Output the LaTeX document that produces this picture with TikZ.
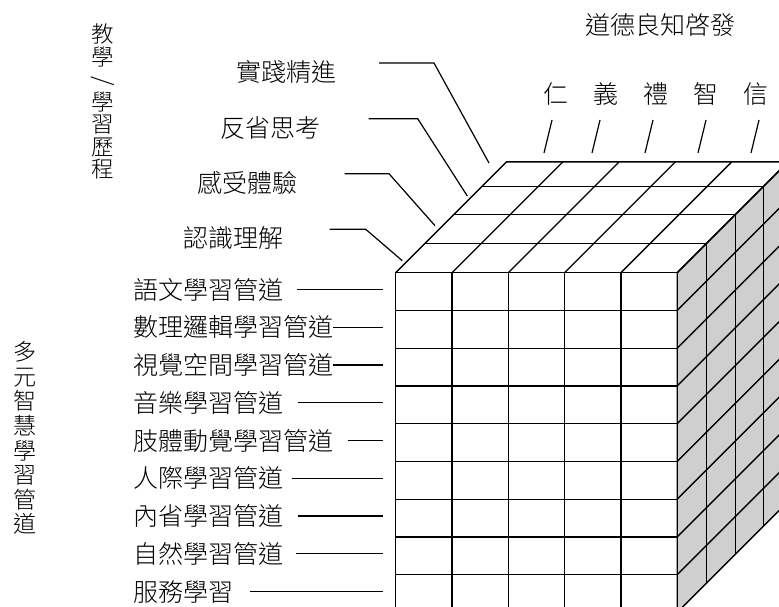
\documentclass[tikz,border=0pt]{standalone}
\usepackage{fontspec}
\usepackage{tikz}
\newfontfamily\cjk{Noto Sans CJK TC Light}
\definecolor{sidegray}{RGB}{207,207,207}
\tikzset{
  lbl/.style={font=\cjk\fontsize{25}{25}\selectfont, inner sep=0pt},
  lead/.style={line width=1.2pt},
  cube/.style={line width=1.3pt, line join=miter},
}

\begin{document}
\begin{tikzpicture}[x=1pt,y=-1pt]
    \useasboundingbox (0,0) rectangle (779,607);
    \clip (0,0) rectangle (779,607);

    % axis titles
    \node[lbl] (daode) at (660,25) {道德良知啓發};
    \node[lbl, align=center, font=\cjk\fontsize{22.5}{22.5}\selectfont] (licheng) at (102.7,101.5)
        {教\\學\\\mbox{}\\學\\習\\歷\\程};
    \node[lbl, rotate=-90, font=\cjk\fontsize{24}{24}\selectfont] (slash) at (102.7,81) {/};
    \node[lbl, align=center, font=\cjk\fontsize{23}{24.6}\selectfont] (guandao) at (25,438)
        {多\\元\\智\\慧\\學\\習\\管\\道};

    % the cube
    \coordinate (A) at (395.7,272.7);
    \coordinate (B) at (677.2,272.7);
    \coordinate (C) at (677.2,612.45);
    \filldraw[cube, fill=sidegray] (B) -- ++(110.8,-110.8) -- ++(0,339.75) -- (C) -- cycle;
    \draw[cube] (A) rectangle (C);
    \draw[cube] (A) -- ++(110.8,-110.8) -- ++(281.5,0) -- (B);
    \foreach \j in {1,...,4}{
        \draw[cube] (395.7+\j*56.3,272.7) -- ++(0,339.75);
        \draw[cube] (395.7+\j*56.3,272.7) -- ++(110.8,-110.8);
    }
    \foreach \i in {1,...,8}{
        \draw[cube] (395.7,272.7+\i*37.75) -- ++(281.5,0);
        \draw[cube] (677.2,272.7+\i*37.75) -- ++(110.8,-110.8);
    }
    \foreach \d in {29.4,58.4,86}{
        \draw[cube] (395.7+\d,272.7-\d) -- ++(281.5,0);
        \draw[cube] (677.2+\d,272.7-\d) -- ++(0,339.75);
    }

    % five virtues
    \foreach \v/\x/\t [count=\k] in {仁/556/552,義/606/600,禮/656/653,智/706/706,信/756/759}{
        \node[lbl] (v\k) at (\x,94) {\v};
        \coordinate (tick\k) at (\t,120);
        \draw[lead] (tick\k) -- ++(-8,33);
    }

    % learning stages
    \foreach \i/\txt/\tx/\ty/\g/\kx/\ex/\ey in {
        1/實踐精進/286/72/43/434/489/163,
        2/反省思考/270.5/127.7/48/417.7/467.3/196,
        3/感受體驗/247.3/182.7/47/389/435/225.7,
        4/認識理解/233.5/238.3/46/365.7/402.3/260.7}{
        \node[lbl] (s\i) at (\tx,\ty) {\txt};
        \coordinate (k\i) at (\kx,\ty-9);
        \coordinate (t\i) at (\ex,\ey);
        \draw[lead] ([xshift=\g pt,yshift=9pt]s\i.east) -- (k\i) -- (t\i);
    }

    % intelligence channels
    \foreach \txt/\g [count=\i] in {語文學習管道/14,數理邏輯學習管道/0,視覺空間學習管道/0,
        音樂學習管道/15,肢體動覺學習管道/15,人際學習管道/9,內省學習管道/15,
        自然學習管道/13,服務學習/17}{
        \node[lbl, anchor=west] (r\i) at (133,251.8+\i*37.75) {\txt};
        \coordinate (e\i) at (383,251.8+\i*37.75);
        \draw[lead] ([xshift=\g pt]r\i.east) -- (e\i);
    }
\end{tikzpicture}
\end{document}
